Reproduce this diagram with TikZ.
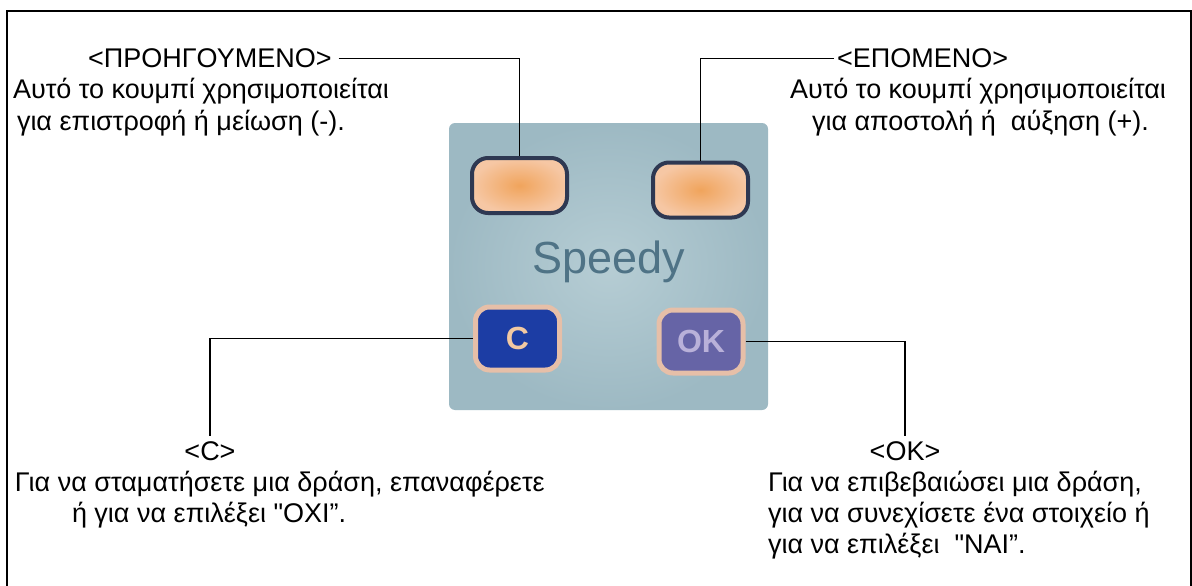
\documentclass[tikz,border=0pt]{standalone}
\usepackage{fontspec}
\setmainfont{Liberation Sans}[Ligatures=TeXOff]
\usetikzlibrary{shadings}
\definecolor{panelin}{HTML}{B6CDD4}
\definecolor{panelout}{HTML}{9DB9C3}
\definecolor{navyedge}{HTML}{2E3852}
\definecolor{orangein}{HTML}{F0A45C}
\definecolor{orangeout}{HTML}{F6C7A4}
\definecolor{cblue}{HTML}{1C3DA4}
\definecolor{okblue}{HTML}{6664A6}
\definecolor{peach}{HTML}{E6BFA8}
\definecolor{cglyph}{HTML}{F2C9A2}
\definecolor{okglyph}{HTML}{B9B1D9}
\definecolor{speedyc}{HTML}{4F7386}
\begin{document}
\begin{tikzpicture}[x=1pt,y=-1pt,
  txt/.style={font=\fontsize{27}{31}\selectfont, inner sep=0pt, outer sep=0pt, anchor=base west},
  ctxt/.style={font=\fontsize{27}{31}\selectfont, inner sep=0pt, outer sep=0pt, anchor=base},
  conn/.style={line width=1.5pt, black},
  topbtn/.style={draw=navyedge, line width=4pt, rounded corners=16pt, inner color=orangein, outer color=orangeout, minimum width=95pt, minimum height=55pt, inner sep=0pt},
  lowbtn/.style={draw=peach, line width=5pt, rounded corners=14pt, minimum width=84pt, minimum height=63pt, inner sep=0pt, font=\bfseries\fontsize{32}{32}\selectfont}
]
\useasboundingbox (0,0) rectangle (1192,586);
\clip (0,0) rectangle (1192,586);
\fill[white] (0,0) rectangle (1192,586);
\draw[line width=2pt] (6.5,600) -- (6.5,11) -- (1191,11) -- (1191,600);

% photo of the keypad
\node[inner color=panelin, outer color=panelout, rounded corners=6pt, minimum width=319pt, minimum height=287pt, inner sep=0pt] (panel) at (608.5,266.5) {};
\node[topbtn] (btnprev) at (519.5,185.5) {};
\node[topbtn] (btnnext) at (700.5,190) {};
\node[font=\fontsize{45}{45}\selectfont, text=speedyc, inner sep=0pt] (speedy) at (609,262) {Speedy};
\node[lowbtn, fill=cblue, text=cglyph] (btnc) at (517.5,338.5) {C};
\node[lowbtn, fill=okblue, text=okglyph] (btnok) at (701,341.5) {OK};

% top left
\node[txt] (prevlabel) at (88,68) {<ΠΡΟΗΓΟΥΜΕΝΟ>};
\node[txt] (prevA) at (13,99) {Αυτό το κουμπί χρησιμοποιείται};
\node[txt] (prevB) at (17,130) {για επιστροφή ή μείωση (-).};
% top right
\node[txt] (nextlabel) at (837,68) {<ΕΠΟΜΕΝΟ>};
\node[txt] (nextA) at (790,99) {Αυτό το κουμπί χρησιμοποιείται};
\node[txt] (nextB) at (812,130) {για αποστολή ή~ αύξηση (+).};
% bottom left
\node[ctxt] (clabel) at (210,460) {<C>};
\node[txt] (cA) at (15,491) {Για να σταματήσετε μια δράση, επαναφέρετε};
\node[txt] (cB) at (72,522) {ή για να επιλέξει "ΟΧΙ”.};
% bottom right
\node[ctxt] (oklabel) at (905,460) {<OK>};
\node[txt] (okA) at (768,491) {Για να επιβεβαιώσει μια δράση,};
\node[txt] (okB) at (768,522) {για να συνεχίσετε ένα στοιχείο ή};
\node[txt] (okC) at (768,553) {για να επιλέξει~ "ΝΑΙ”.};

% connectors
\draw[conn] ([xshift=7pt]prevlabel.east) -| (btnprev.north);
\draw[conn] ([xshift=-3pt]nextlabel.west) -| (btnnext.north);
\draw[conn] (btnc.west) -| ([yshift=5pt]clabel.north);
\draw[conn] (btnok.east) -| ([yshift=5pt]oklabel.north);
\end{tikzpicture}
\end{document}
